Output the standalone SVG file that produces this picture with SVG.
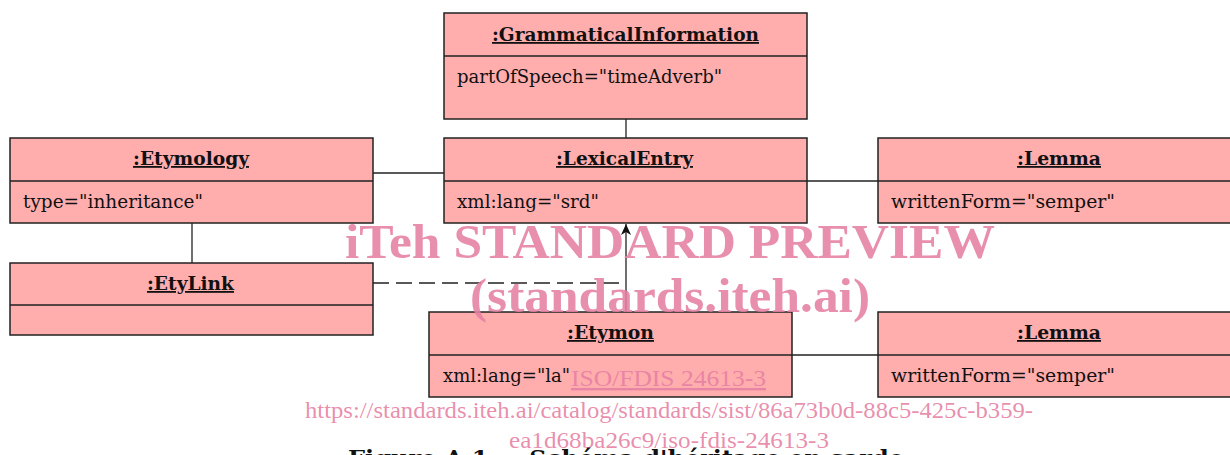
<svg xmlns="http://www.w3.org/2000/svg" width="1230" height="455" viewBox="0 0 1230 455">
<style>
.box{fill:#ffadad;stroke:#222;stroke-width:1.5}
.div{stroke:#222;stroke-width:1.5}
.hd{font-family:"DejaVu Serif","Liberation Serif",serif;font-weight:bold;font-size:18px;fill:#111;text-decoration:underline}
.at{font-family:"DejaVu Serif","Liberation Serif",serif;font-size:18px;fill:#111}
.ln{stroke:#222;stroke-width:1.3;fill:none}
.wm{font-family:"Liberation Serif",serif;fill:#e67fa3;fill-opacity:0.88}
</style>
<defs>
<marker id="arr" markerWidth="12" markerHeight="10" refX="11" refY="5" orient="auto" markerUnits="userSpaceOnUse" viewBox="0 0 12 10">
<path d="M0,0 L11,5 L0,10 L3,5 Z" fill="#111"/>
</marker>
</defs>
<g id="connectors">
<line class="ln" x1="626" y1="119" x2="626" y2="138"/>
<line class="ln" x1="373" y1="173" x2="444" y2="173"/>
<line class="ln" x1="807" y1="181" x2="878" y2="181"/>
<line class="ln" x1="192" y1="223" x2="192" y2="263"/>
<line class="ln" x1="373" y1="283" x2="626" y2="283" stroke-dasharray="16,7"/>
<line class="ln" x1="626" y1="312" x2="626" y2="224" marker-end="url(#arr)"/>
<line class="ln" x1="792" y1="355" x2="878" y2="355"/>
</g>
<g id="grammaticalInformation">
<rect class="box" x="444" y="13" width="363" height="106"/>
<line class="div" x1="444" y1="56" x2="807" y2="56"/>
<text class="hd" x="492" y="41" textLength="267" lengthAdjust="spacingAndGlyphs">:GrammaticalInformation</text>
<text class="at" x="457" y="83" textLength="265" lengthAdjust="spacingAndGlyphs">partOfSpeech="timeAdverb"</text>
</g>
<g id="lexicalEntry">
<rect class="box" x="444" y="138" width="363" height="85"/>
<line class="div" x1="444" y1="181" x2="807" y2="181"/>
<text class="hd" x="556" y="165" textLength="137" lengthAdjust="spacingAndGlyphs">:LexicalEntry</text>
<text class="at" x="457" y="208" textLength="142" lengthAdjust="spacingAndGlyphs">xml:lang="srd"</text>
</g>
<g id="etymology">
<rect class="box" x="10" y="138" width="363" height="85"/>
<line class="div" x1="10" y1="181" x2="373" y2="181"/>
<text class="hd" x="133" y="165" textLength="116" lengthAdjust="spacingAndGlyphs">:Etymology</text>
<text class="at" x="23" y="208" textLength="180" lengthAdjust="spacingAndGlyphs">type="inheritance"</text>
</g>
<g id="lemma1">
<rect class="box" x="878" y="138" width="360" height="85"/>
<line class="div" x1="878" y1="181" x2="1238" y2="181"/>
<text class="hd" x="1017" y="165" textLength="84" lengthAdjust="spacingAndGlyphs">:Lemma</text>
<text class="at" x="891" y="208" textLength="224" lengthAdjust="spacingAndGlyphs">writtenForm="semper"</text>
</g>
<g id="etyLink">
<rect class="box" x="10" y="263" width="363" height="72"/>
<line class="div" x1="10" y1="305" x2="373" y2="305"/>
<text class="hd" x="147" y="290" textLength="87" lengthAdjust="spacingAndGlyphs">:EtyLink</text>
</g>
<g id="etymon">
<rect class="box" x="429" y="312" width="363" height="85"/>
<line class="div" x1="429" y1="355" x2="792" y2="355"/>
<text class="hd" x="567" y="339" textLength="87" lengthAdjust="spacingAndGlyphs">:Etymon</text>
<text class="at" x="443" y="382" textLength="127" lengthAdjust="spacingAndGlyphs">xml:lang="la"</text>
</g>
<g id="lemma2">
<rect class="box" x="878" y="312" width="360" height="85"/>
<line class="div" x1="878" y1="355" x2="1238" y2="355"/>
<text class="hd" x="1017" y="339" textLength="84" lengthAdjust="spacingAndGlyphs">:Lemma</text>
<text class="at" x="891" y="382" textLength="224" lengthAdjust="spacingAndGlyphs">writtenForm="semper"</text>
</g>
<g id="watermark">
<text class="wm" x="345" y="258" font-size="48" font-weight="bold" textLength="650" lengthAdjust="spacingAndGlyphs">iTeh STANDARD PREVIEW</text>
<text class="wm" x="470" y="312" font-size="48" font-weight="bold" textLength="400" lengthAdjust="spacingAndGlyphs">(standards.iteh.ai)</text>
<text class="wm" x="571" y="386" font-size="24" text-decoration="underline" textLength="195" lengthAdjust="spacingAndGlyphs">ISO/FDIS 24613-3</text>
<text class="wm" x="305" y="418" font-size="23" textLength="728" lengthAdjust="spacingAndGlyphs">https://standards.iteh.ai/catalog/standards/sist/86a73b0d-88c5-425c-b359-</text>
<text class="wm" x="509" y="448" font-size="23" textLength="320" lengthAdjust="spacingAndGlyphs">ea1d68ba26c9/iso-fdis-24613-3</text>
</g>
<text x="348" y="466" font-family="DejaVu Serif,serif" font-weight="bold" font-size="22" fill="#111" textLength="556" lengthAdjust="spacingAndGlyphs">Figure A.1 — Schéma d'héritage en sarde</text>
</svg>
